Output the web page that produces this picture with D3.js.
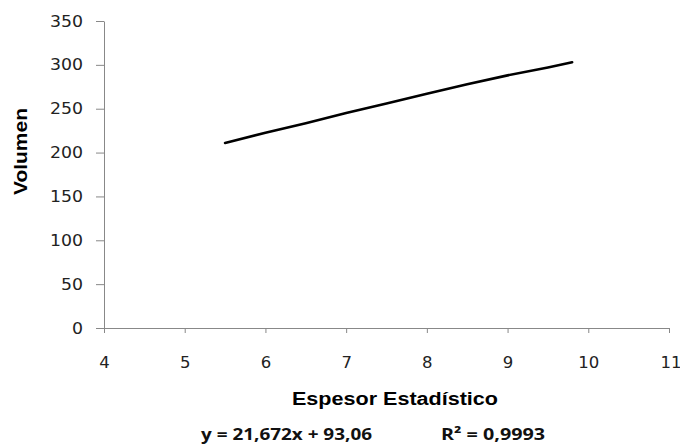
<!DOCTYPE html>
<html lang="es">
<head>
<meta charset="utf-8"/>
<title>Volumen vs Espesor Estadístico</title>
<script src="https://cdn.jsdelivr.net/npm/d3@7/dist/d3.min.js"></script>
<style>
  html, body { margin:0; padding:0; background:#fff; overflow:hidden; }
  svg { display:block; }
  .tick text { font-family:"DejaVu Sans", sans-serif; font-size:16px; fill:#222; }
  .domain, .tick line { stroke:#888; }
</style>
</head>
<body>
<svg width="680" height="444"></svg>
<script>
// datos
const espesor = [5.5, 6.0, 6.5, 7.0, 7.5, 8.0, 8.5, 9.0, 9.5, 9.8];
const volumen = [211, 222.5, 233.5, 245, 256, 267, 278, 288, 297, 303];
const xTicks  = [4, 5, 6, 7, 8, 9, 10, 11];
const yTicks  = [0, 50, 100, 150, 200, 250, 300, 350];
const ecuacion = "y = 21,672x + 93,06";
const r2 = "R² = 0,9993";

const svg = d3.select("svg");
const L = 104, R = 669, T = 21, B = 328;

const x = d3.scaleLinear().domain([4, 11]).range([L, R]);
const y = d3.scaleLinear().domain([0, 350]).range([B, T]);

// ejes
svg.append("g")
  .attr("transform", `translate(0,${B})`)
  .call(d3.axisBottom(x).tickValues(xTicks).tickFormat(d3.format("d"))
    .tickSize(5).tickPadding(24).tickSizeOuter(0))
  .call(g => g.selectAll("text").attr("textLength", d => String(d).length * 10.5)
    .attr("lengthAdjust", "spacingAndGlyphs"))
  .call(g => g.selectAll(".tick:last-of-type text").attr("text-anchor", "end").attr("dx", "12px"));

svg.append("g")
  .attr("transform", `translate(${L},0)`)
  .call(d3.axisLeft(y).tickValues(yTicks).tickFormat(d3.format("d"))
    .tickSize(8).tickPadding(13).tickSizeOuter(0))
  .call(g => g.selectAll("text").attr("textLength", d => String(d).length * 11)
    .attr("lengthAdjust", "spacingAndGlyphs"));

// línea
const pts = espesor.map((v, i) => [v, volumen[i]]);
svg.append("path")
  .datum(pts)
  .attr("fill", "none")
  .attr("stroke", "#000")
  .attr("stroke-width", 2.6)
  .attr("stroke-linecap", "round")
  .attr("d", d3.line().x(d => x(d[0])).y(d => y(d[1])));

// títulos
svg.append("text")
  .attr("x", 292).attr("y", 405)
  .attr("textLength", 206).attr("lengthAdjust", "spacingAndGlyphs")
  .style("font", "bold 18px 'Liberation Sans', Arial, sans-serif")
  .text("Espesor Estadístico");

svg.append("text")
  .attr("transform", "translate(27,195) rotate(-90)")
  .attr("textLength", 87).attr("lengthAdjust", "spacingAndGlyphs")
  .style("font", "bold 19px 'Liberation Sans', Arial, sans-serif")
  .text("Volumen");

// ecuación de la tendencia
svg.append("text")
  .attr("x", 201).attr("y", 440)
  .attr("textLength", 171).attr("lengthAdjust", "spacingAndGlyphs")
  .style("font", "bold 16px 'Open Sans', sans-serif").style("fill", "#111")
  .text(ecuacion);

svg.append("text")
  .attr("x", 441).attr("y", 440)
  .attr("textLength", 104).attr("lengthAdjust", "spacingAndGlyphs")
  .style("font", "bold 16px 'Open Sans', sans-serif").style("fill", "#111")
  .text(r2);
</script>
</body>
</html>
